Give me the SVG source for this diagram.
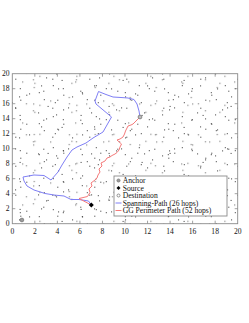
<svg xmlns="http://www.w3.org/2000/svg" width="249" height="323" viewBox="0 0 249 323">
<style>
.lbl{font-family:"Liberation Serif","Times New Roman",serif;font-size:7.6px;fill:#111}
.frame{fill:none;stroke:#8a8a8a;stroke-width:0.9}
.tick{stroke:#8a8a8a;stroke-width:0.8}
.dot{fill:#333}
.dotl{fill:#888}
.span{fill:none;stroke:#7f7ff5;stroke-width:1;stroke-linejoin:round}
.gg{fill:none;stroke:#f57a7a;stroke-width:1;stroke-linejoin:round}
</style>
<defs>
<pattern id="pA" patternUnits="userSpaceOnUse" x="12.3" y="73.7" width="37" height="29">
<rect class="dot" x="3" y="5" width="1" height="1"/><rect class="dot" x="14" y="21" width="1" height="1"/><rect class="dotl" x="22" y="9" width="1.2" height="1.2"/><rect class="dot" x="31" y="17" width="1" height="1"/><rect class="dot" x="8" y="26" width="1" height="1"/><rect class="dotl" x="27" y="2" width="1.2" height="1.2"/>
</pattern>
<pattern id="pB" patternUnits="userSpaceOnUse" x="14.8" y="75.2" width="43" height="31">
<rect class="dot" x="5" y="13" width="1" height="1"/><rect class="dotl" x="18" y="4" width="1.2" height="1.2"/><rect class="dot" x="29" y="24" width="1" height="1"/><rect class="dot" x="38" y="10" width="1" height="1"/><rect class="dotl" x="11" y="28" width="1.2" height="1.2"/><rect class="dot" x="24" y="17" width="1" height="1"/><rect class="dot" x="40" y="27" width="1" height="1"/>
</pattern>
<pattern id="pC" patternUnits="userSpaceOnUse" x="13.1" y="74.4" width="53" height="41">
<rect class="dot" x="2" y="33" width="1" height="1"/><rect class="dotl" x="9" y="7" width="1.2" height="1.2"/><rect class="dot" x="16" y="19" width="1" height="1"/><rect class="dot" x="25" y="38" width="1" height="1"/><rect class="dot" x="33" y="3" width="1" height="1"/><rect class="dotl" x="37" y="26" width="1.2" height="1.2"/><rect class="dot" x="45" y="14" width="1" height="1"/><rect class="dot" x="50" y="35" width="1" height="1"/><rect class="dotl" x="20" y="29" width="1.2" height="1.2"/><rect class="dot" x="43" y="40" width="1" height="1"/><rect class="dot" x="28" y="11" width="1" height="1"/><rect class="dot" x="6" y="22" width="1" height="1"/>
</pattern>
<pattern id="pD" patternUnits="userSpaceOnUse" x="12.6" y="74.9" width="61" height="47">
<rect class="dot" x="7" y="40" width="1" height="1"/><rect class="dotl" x="21" y="12" width="1.2" height="1.2"/><rect class="dot" x="35" y="31" width="1" height="1"/><rect class="dot" x="49" y="5" width="1" height="1"/><rect class="dotl" x="56" y="22" width="1.2" height="1.2"/>
</pattern>
</defs>
<rect width="249" height="323" fill="#fff"/>
<g id="nodes-field">
<rect x="12.3" y="73.7" width="225.4" height="150" fill="url(#pA)"/>
<rect x="12.3" y="73.7" width="225.4" height="150" fill="url(#pB)"/>
<rect x="12.3" y="73.7" width="225.4" height="150" fill="url(#pC)"/>
<rect x="12.3" y="73.7" width="225.4" height="150" fill="url(#pD)"/>
</g>
<g id="axes">
<rect class="frame" x="12.3" y="73.7" width="225.4" height="150"/>
<path class="tick" d="M34.84,223.7v-3M57.38,223.7v-3M79.92,223.7v-3M102.46,223.7v-3M125,223.7v-3M147.54,223.7v-3M170.08,223.7v-3M192.62,223.7v-3M215.16,223.7v-3M34.84,73.7v3M57.38,73.7v3M79.92,73.7v3M102.46,73.7v3M125,73.7v3M147.54,73.7v3M170.08,73.7v3M192.62,73.7v3M215.16,73.7v3M12.3,208.7h3M12.3,193.7h3M12.3,178.7h3M12.3,163.7h3M12.3,148.7h3M12.3,133.7h3M12.3,118.7h3M12.3,103.7h3M12.3,88.7h3M237.7,208.7h-3M237.7,193.7h-3M237.7,178.7h-3M237.7,163.7h-3M237.7,148.7h-3M237.7,133.7h-3M237.7,118.7h-3M237.7,103.7h-3M237.7,88.7h-3"/>
<g class="lbl" text-anchor="end">
<text x="9.6" y="226.4">0</text><text x="9.6" y="211.4">2</text><text x="9.6" y="196.4">4</text><text x="9.6" y="181.4">6</text><text x="9.6" y="166.4">8</text><text x="9.6" y="151.4">10</text><text x="9.6" y="136.4">12</text><text x="9.6" y="121.4">14</text><text x="9.6" y="106.4">16</text><text x="9.6" y="91.4">18</text><text x="9.6" y="76.4">20</text>
</g>
<g class="lbl" text-anchor="middle">
<text x="12.3" y="234">0</text><text x="34.84" y="234">2</text><text x="57.38" y="234">4</text><text x="79.92" y="234">6</text><text x="102.46" y="234">8</text><text x="125" y="234">10</text><text x="147.54" y="234">12</text><text x="170.08" y="234">14</text><text x="192.62" y="234">16</text><text x="215.16" y="234">18</text><text x="237.7" y="234">20</text>
</g>
</g>
<g id="connectors">
<path id="spanning-path" class="span" d="M91.3,205 L88.5,201 L79,199.5 L71,199.5 L64,196 L54,195 L45,193.5 L34,190 L27,186 L24,181 L23,177 L34,175 L44,175.5 L51,180 L58,172 L62,165 L67,157 L72,150 L77,147 L86,143 L93,138 L98,135 L103,132 L111.5,117 L96,104 L95,101 L98.5,91.5 L106,94.5 L113,97 L121,97.5 L128,98 L134,99.5 L137,104 L139,111 L140,117"/>
<path id="gg-path" class="gg" d="M91.3,205 L79,198.5 L87.5,196.5 L90,192.5 L89,189 L92,186 L91,183 L95,180 L97,178 L98,175 L100,172 L99,169 L102,166 L101,163 L105,161 L107,158 L110,157 L112,155.5 L115,154 L117,152.5 L119,150 L120,147 L121.5,144 L117,140 L120,139 L123,137 L124.5,134 L125.5,131 L127,128 L128,126 L131,125 L133,124 L135,122 L137,120 L140,117"/>
</g>
<g id="anchor"><circle cx="21.9" cy="220" r="1.9" fill="#9a9a9a" stroke="#666" stroke-width="0.6"/></g>
<g id="destination"><circle cx="140" cy="117" r="1.9" fill="#bbb" stroke="#777" stroke-width="0.8"/></g>
<g id="source"><path d="M91.3,202.5 L93.8,205 L91.3,207.5 L88.8,205 Z" fill="#000"/></g>
<g id="legend">
<rect x="114" y="176" width="113" height="40" fill="#fff" stroke="#8a8a8a" stroke-width="0.9"/>
<circle cx="118.5" cy="180.5" r="1.6" fill="#9a9a9a" stroke="#666" stroke-width="0.6"/>
<path d="M118.5,186 L120.5,188 L118.5,190 L116.5,188 Z" fill="#000"/>
<circle cx="118.5" cy="195.5" r="1.5" fill="none" stroke="#777" stroke-width="0.8"/>
<line x1="115.5" y1="203" x2="121.5" y2="203" class="span"/>
<line x1="115.5" y1="210.5" x2="121.5" y2="210.5" class="gg"/>
<g class="lbl">
<text x="122.7" y="183">Anchor</text>
<text x="122.7" y="190.5">Source</text>
<text x="122.7" y="198">Destination</text>
<text x="122.7" y="205.5">Spanning-Path (26 hops)</text>
<text x="122.7" y="213">GG Perimeter Path (52 hops)</text>
</g>
</g>
</svg>
